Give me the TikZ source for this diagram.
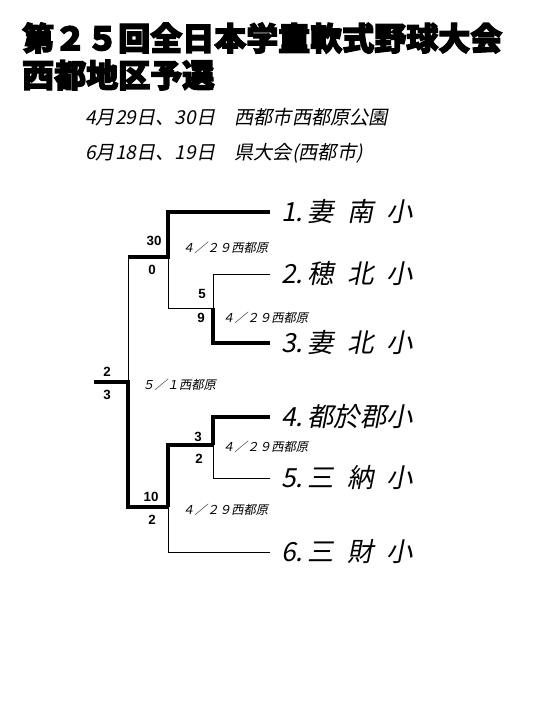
\documentclass[tikz,border=0pt]{standalone}
\usepackage{fontspec}
\newfontfamily\jpit[FakeSlant=0.2]{Noto Sans CJK JP}
\newfontfamily\jptitle[FakeBold=4]{Noto Sans CJK JP}
\newfontfamily\scorefont{Liberation Sans}
\begin{document}
\begin{tikzpicture}[x=0.75pt,y=-0.75pt,
  thickln/.style={line width=3pt, line join=miter},
  thinln/.style={line width=0.75pt},
  teamname/.style={anchor=west, inner sep=0pt, font=\jpit\fontsize{19.75pt}{20pt}\selectfont},
  score/.style={inner sep=0pt, font=\scorefont\bfseries\fontsize{10pt}{10pt}\selectfont},
  venue/.style={anchor=west, inner sep=0pt, font=\jpit\fontsize{9.2pt}{9.2pt}\selectfont},
  titletext/.style={anchor=west, inner sep=0pt, font=\jptitle\bfseries\fontsize{24pt}{24pt}\selectfont},
  subtext/.style={anchor=west, inner sep=0pt, font=\jpit\fontsize{14.4pt}{15pt}\selectfont}]
\useasboundingbox (0,0) rectangle (540,720);
% titles
\node[titletext] (title1) at (22,38) {第２５回全日本学童軟式野球大会};
\node[titletext] (title2) at (22,75) {西都地区予選};
\node[subtext] (sub1) at (85,117) {4月29日、30日　西都市西都原公園};
\node[subtext] (sub2) at (85,153) {6月18日、19日　県大会(西都市)};
% line ends
\coordinate (e1) at (270,212);
\coordinate (e2) at (270,274);
\coordinate (e3) at (270,343);
\coordinate (e4) at (270,417);
\coordinate (e5) at (270,478);
\coordinate (e6) at (270,552);
% team names
\node[teamname] (n1) at (281,212) {\makebox[1em][l]{1.}妻\hspace{.5em}南\hspace{.5em}小};
\node[teamname] (n2) at (281,274) {\makebox[1em][l]{2.}穂\hspace{.5em}北\hspace{.5em}小};
\node[teamname] (n3) at (281,343) {\makebox[1em][l]{3.}妻\hspace{.5em}北\hspace{.5em}小};
\node[teamname] (n4) at (281,417) {\makebox[1em][l]{4.}都於郡小};
\node[teamname] (n5) at (281,478) {\makebox[1em][l]{5.}三\hspace{.5em}納\hspace{.5em}小};
\node[teamname] (n6) at (281,552) {\makebox[1em][l]{6.}三\hspace{.5em}財\hspace{.5em}小};
% junctions
\coordinate (j12) at (168,257);
\coordinate (jt) at (128,257);
\coordinate (j23) at (213,308);
\coordinate (j45) at (213,445);
\coordinate (j46) at (168,507);
\coordinate (jf) at (128,382);
\coordinate (root) at (94,382);
% round 1 (2 vs 3)
\draw[thinln] (e2) -| (j23);
\draw[thickln] (e3) -| (j23);
% round 1 (4 vs 5)
\draw[thickln] (e4) -| (j45);
\draw[thinln] (e5) -| (j45);
% semifinal 1 vs (2/3)
\draw[thinln] (j23) -| (j12);
\draw[thickln] (e1) -| (j12) -- (jt);
% semifinal (4/5) vs 6
\draw[thinln] (e6) -| (j46);
\draw[thickln] (j45) -| (j46);
% final
\draw[thinln] (jt) -- (jf);
\draw[thickln] (j46) -| (jf) -- (root);
% scores
\node[score] (s1) at (154,241) {30};
\node[score] (s2) at (152,270) {0};
\node[score] (s3) at (202,294) {5};
\node[score] (s4) at (201,318) {9};
\node[score] (s5) at (107,372) {2};
\node[score] (s6) at (107,395) {3};
\node[score] (s7) at (198,437) {3};
\node[score] (s8) at (199,459) {2};
\node[score] (s9) at (151,497) {10};
\node[score] (s10) at (152,520) {2};
% venues
\node[venue] (v1) at (182,248) {４／２９西都原};
\node[venue] (v2) at (222,318) {４／２９西都原};
\node[venue] (v3) at (142,385) {５／１西都原};
\node[venue] (v4) at (222,447) {４／２９西都原};
\node[venue] (v5) at (182,510) {４／２９西都原};
\end{tikzpicture}
\end{document}
